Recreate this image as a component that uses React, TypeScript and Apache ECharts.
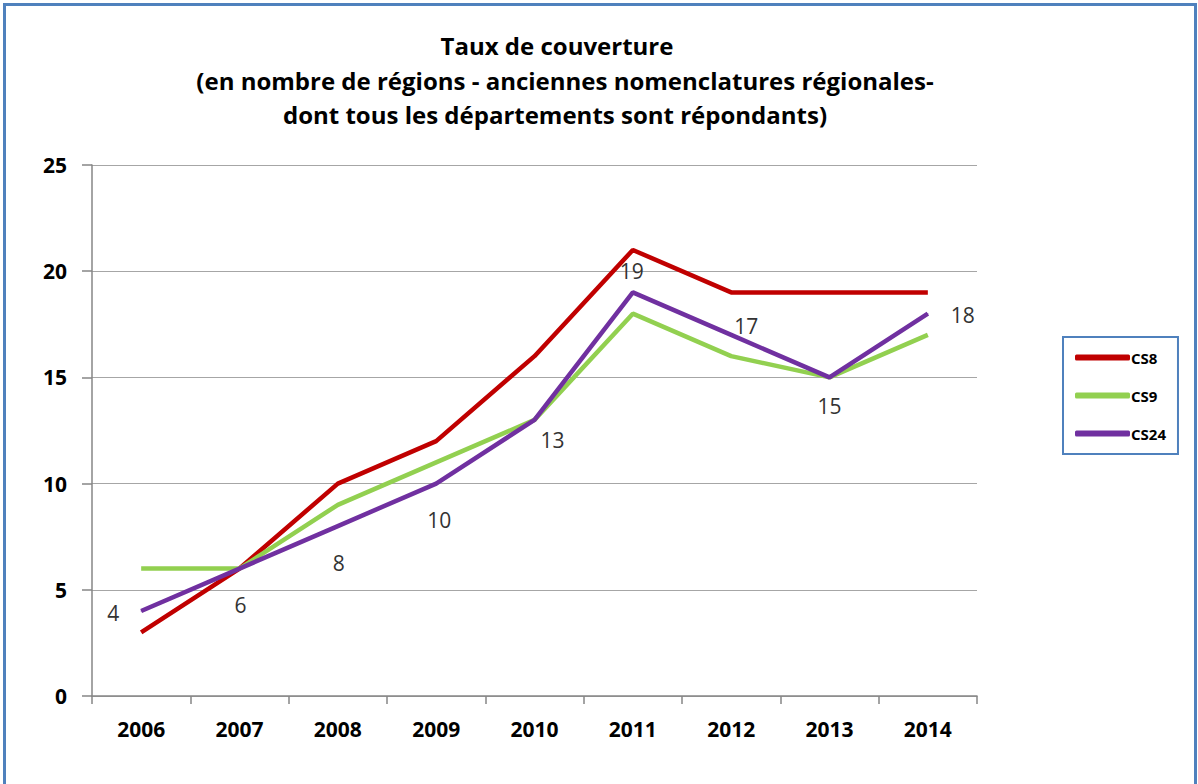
import React, { useEffect, useRef } from "react";
import * as echarts from "echarts";

const years = ["2006", "2007", "2008", "2009", "2010", "2011", "2012", "2013", "2014"];
const cs8 = [3, 6, 10, 12, 16, 21, 19, 19, 19];
const cs9 = [6, 6, 9, 11, 13, 18, 16, 15, 17];
const cs24 = [4, 6, 8, 10, 13, 19, 17, 15, 18];
const cs24LabelOffsets: [number, number][] = [
  [-28, 2],
  [1, 36],
  [1, 37],
  [3, 36],
  [18, 20],
  [-1, -21],
  [15, -9],
  [0, 29],
  [35, 1],
];
const titleLines = [
  "Taux de couverture",
  "(en nombre de régions - anciennes nomenclatures régionales-",
  "dont tous les départements sont répondants)",
];

const FONT = "'Open Sans', Lato, sans-serif";

export default function App() {
  const ref = useRef<HTMLDivElement>(null);
  useEffect(() => {
    document.body.style.margin = "0";
    if (!ref.current) return;
    const chart = echarts.init(ref.current, undefined, { renderer: "svg" });
    const titleX = [557, 565, 555];
    const titleY = [45, 80, 114];
    chart.setOption({
      animation: false,
      backgroundColor: "#ffffff",
      title: titleLines.map((t, i) => ({
        text: t,
        left: titleX[i],
        top: titleY[i] - 17,
        textAlign: "center",
        padding: 0,
        textStyle: { fontFamily: FONT, fontWeight: "bold", fontSize: 24, lineHeight: 34, color: "#000" },
      })),
      graphic: [
        {
          type: "rect",
          shape: { x: 4.5, y: 4.5, width: 1191, height: 800 },
          style: { fill: "none", stroke: "#4F81BD", lineWidth: 3 },
          silent: true,
        },
      ],
      legend: {
        orient: "vertical",
        left: 1063,
        top: 337,
        borderColor: "#4F81BD",
        borderWidth: 2,
        padding: [13, 12, 13, 12],
        itemGap: 23,
        itemWidth: 55,
        itemHeight: 6,
        icon: "roundRect",
        textStyle: { fontFamily: FONT, fontWeight: "bold", fontSize: 15, color: "#000", padding: [0, 0, 0, -4] },
        data: ["CS8", "CS9", "CS24"],
      },
      grid: { left: 92, right: 221, top: 165, bottom: 88 },
      xAxis: {
        type: "category",
        data: years,
        boundaryGap: true,
        axisLine: { lineStyle: { color: "#868686", width: 1.5 } },
        axisTick: { show: true, length: 8, lineStyle: { color: "#868686", width: 1.5 } },
        axisLabel: { fontFamily: FONT, fontWeight: "bold", fontSize: 21, color: "#000", margin: 22 },
      },
      yAxis: {
        type: "value",
        min: 0,
        max: 25,
        interval: 5,
        axisLine: { show: true, lineStyle: { color: "#868686", width: 1.5 } },
        axisTick: { show: true, inside: false, length: 10, lineStyle: { color: "#868686", width: 1.5 } },
        axisLabel: { fontFamily: FONT, fontWeight: "bold", fontSize: 21, color: "#000", margin: 25 },
        splitLine: { lineStyle: { color: "#A6A6A6", width: 1 } },
      },
      series: [
        {
          name: "CS8",
          type: "line",
          data: cs8,
          symbol: "none",
          color: "#C00000",
          lineStyle: { width: 4.5, color: "#C00000" },
          z: 3,
        },
        {
          name: "CS9",
          type: "line",
          data: cs9,
          symbol: "none",
          color: "#92D050",
          lineStyle: { width: 4.5, color: "#92D050" },
          z: 4,
        },
        {
          name: "CS24",
          type: "line",
          color: "#7030A0",
          symbol: "circle",
          symbolSize: 1,
          itemStyle: { color: "#7030A0" },
          lineStyle: { width: 4.5, color: "#7030A0" },
          z: 5,
          data: cs24.map((v, i) => ({
            value: v,
            label: {
              show: true,
              position: "inside",
              offset: cs24LabelOffsets[i],
              align: "center",
              verticalAlign: "middle",
              formatter: "{c}",
              fontFamily: FONT,
              fontSize: 21,
              color: "#333333",
            },
          })),
        },
      ],
    });
    return () => chart.dispose();
  }, []);
  return <div ref={ref} style={{ width: 1198, height: 784 }} />;
}
